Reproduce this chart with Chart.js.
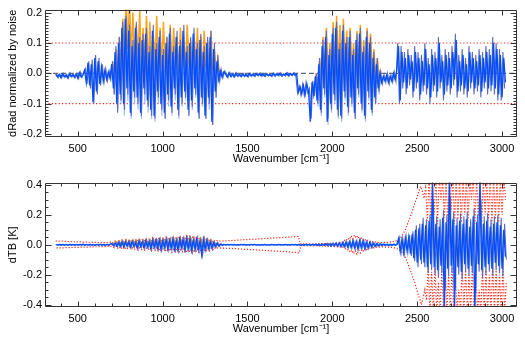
<!DOCTYPE html>
<html>
<head>
<meta charset="utf-8">
<script src="https://cdn.jsdelivr.net/npm/chart.js@4"></script>
<style>
  html, body { margin: 0; background: #fff; }
  #wrap { position: relative; width: 525px; height: 346px; }
  canvas { position: absolute; left: 0; display: block; }
</style>
</head>
<body>
<div id="wrap">
  <canvas id="dradChart" width="525" height="173" style="top:0"></canvas>
  <canvas id="dtbChart" width="525" height="173" style="top:173px"></canvas>
</div>
<script>
// spectra are sampled every 10 cm-1 starting at 370 cm-1 (rows below = 100 cm-1 each);
// the secondary traces sit on the half-step grid (375, 385, ...)
const WN_START = 370;
const WN_HALF = 375;
const WN_STEP = 10;
const WN_MIN = 307;
const WN_MAX = 3088;

const xMajorTicks = [500, 1000, 1500, 2000, 2500, 3000];
const dradTicks = [-0.2, -0.1, 0.0, 0.1, 0.2];
const dtbTicks = [-0.4, -0.2, 0.0, 0.2, 0.4];
const dradLimits = [0.1, -0.1];

// radiance difference normalized by noise
const dradBlue = [
  -0.003,-0.012,-0.004,-0.014,-0.002,-0.011,-0.006,-0.015,-0.001,-0.010,
  -0.005,-0.013,-0.002,-0.016,0.002,-0.012,-0.004,0.010,-0.030,0.035,
  -0.040,0.030,-0.095,0.050,-0.060,0.040,-0.035,0.020,-0.025,0.010,
  -0.020,0.004,-0.016,0.030,-0.050,0.070,-0.100,0.100,-0.070,0.150,
  -0.100,0.180,-0.050,0.140,-0.130,0.090,-0.060,0.150,-0.080,0.100,
  -0.130,0.110,-0.050,0.130,-0.090,0.070,-0.120,0.140,-0.140,0.080,
  -0.060,0.120,-0.100,0.060,-0.130,0.100,-0.070,0.130,-0.110,0.070,
  -0.050,0.120,-0.120,0.090,-0.080,0.140,-0.060,0.070,-0.120,0.100,
  -0.090,0.130,-0.050,0.080,-0.130,0.110,-0.080,0.070,-0.140,0.100,
  -0.080,0.120,-0.160,0.080,-0.060,0.040,-0.020,0.008,-0.012,0.004,
  -0.002,-0.012,0.001,-0.010,-0.003,-0.011,0.000,-0.009,-0.004,-0.010,
  -0.002,-0.009,-0.004,-0.010,-0.001,-0.008,-0.003,-0.009,-0.002,-0.007,
  -0.001,-0.008,-0.003,-0.009,-0.002,-0.007,-0.004,-0.009,-0.001,-0.008,
  -0.002,-0.007,-0.001,-0.008,-0.003,-0.007,0.000,-0.008,-0.002,-0.006,
  0.000,-0.007,-0.002,-0.062,-0.045,-0.068,-0.040,-0.070,-0.035,-0.060,
  -0.160,-0.030,-0.070,-0.010,-0.090,0.030,-0.120,0.090,-0.050,0.120,
  -0.160,0.060,-0.100,0.130,-0.070,0.150,-0.120,0.080,-0.140,0.140,
  -0.060,0.100,-0.110,0.120,-0.080,0.060,-0.130,0.110,-0.050,0.130,
  -0.100,0.070,-0.140,0.120,-0.060,0.100,-0.120,0.050,-0.080,0.030,
  -0.050,0.000,-0.030,-0.010,-0.025,-0.005,-0.030,-0.010,-0.025,0.000,
  -0.020,0.010,0.090,-0.090,0.070,-0.030,0.050,-0.050,0.060,-0.020,
  0.040,-0.060,0.070,-0.030,0.050,-0.070,0.040,-0.040,0.080,-0.050,
  0.030,-0.080,0.060,-0.040,0.050,-0.060,0.100,-0.030,0.040,-0.070,
  0.060,-0.040,0.050,-0.050,0.070,-0.020,0.110,-0.060,0.040,-0.040,
  0.060,-0.050,0.030,-0.060,0.070,-0.030,0.050,-0.050,0.040,-0.040,
  0.060,-0.060,0.050,-0.030,0.070,-0.050,0.060,-0.040,0.100,-0.050,
  0.080,-0.070,0.060,-0.080,0.050,-0.030
];
const dradSlate = [
  -0.001,-0.015,-0.002,-0.016,0.000,-0.014,-0.004,-0.017,0.001,-0.013,
  -0.003,-0.015,0.000,-0.018,0.004,-0.014,-0.002,0.015,-0.035,0.040,
  -0.050,0.045,-0.100,0.060,-0.070,0.050,-0.040,0.030,-0.030,0.015,
  -0.025,0.008,-0.020,0.040,-0.070,0.090,-0.130,0.120,-0.090,0.170,
  -0.120,0.190,-0.070,0.160,-0.140,0.110,-0.080,0.170,-0.100,0.120,
  -0.140,0.130,-0.070,0.150,-0.110,0.090,-0.140,0.160,-0.150,0.100,
  -0.080,0.140,-0.120,0.080,-0.150,0.120,-0.090,0.150,-0.130,0.090,
  -0.070,0.140,-0.140,0.110,-0.100,0.160,-0.080,0.090,-0.140,0.120,
  -0.110,0.150,-0.070,0.100,-0.150,0.130,-0.100,0.090,-0.150,0.120,
  -0.100,0.140,-0.170,0.100,-0.080,0.060,-0.030,0.012,-0.016,0.008,
  0.000,-0.014,0.003,-0.012,-0.001,-0.013,0.002,-0.011,-0.002,-0.012,
  0.000,-0.011,-0.002,-0.012,0.001,-0.010,-0.001,-0.011,0.000,-0.009,
  0.001,-0.010,-0.001,-0.011,0.000,-0.009,-0.002,-0.011,0.001,-0.010,
  0.000,-0.009,0.001,-0.010,-0.001,-0.009,0.002,-0.010,0.000,-0.008,
  0.002,-0.009,-0.065,-0.042,-0.072,-0.036,-0.074,-0.030,-0.065,-0.050,
  -0.150,-0.025,-0.075,0.000,-0.100,0.050,-0.130,0.110,-0.070,0.140,
  -0.150,0.080,-0.120,0.150,-0.090,0.170,-0.140,0.100,-0.150,0.160,
  -0.080,0.120,-0.130,0.140,-0.100,0.080,-0.150,0.130,-0.070,0.150,
  -0.120,0.090,-0.150,0.140,-0.080,0.120,-0.130,0.070,-0.100,0.050,
  -0.060,0.005,-0.035,-0.005,-0.030,0.000,-0.035,-0.005,-0.030,0.005,
  -0.025,0.100,-0.100,0.090,-0.050,0.070,-0.070,0.080,-0.040,0.060,
  -0.080,0.090,-0.050,0.070,-0.090,0.060,-0.060,0.100,-0.070,0.050,
  -0.100,0.080,-0.060,0.070,-0.080,0.120,-0.050,0.060,-0.090,0.080,
  -0.060,0.070,-0.070,0.090,-0.040,0.130,-0.080,0.060,-0.060,0.080,
  -0.070,0.050,-0.080,0.090,-0.050,0.070,-0.070,0.060,-0.060,0.080,
  -0.080,0.070,-0.050,0.090,-0.070,0.080,-0.060,0.120,-0.070,0.100,
  -0.090,0.080,-0.090,0.070,-0.050
];
// orange / light blue only differ from the others inside the two active bands
const dradOrangeA = [ // 705..1345
  0.04,-0.01,0.08,0.00,0.12,0.02,0.18,0.06,0.25,0.08,
  0.24,0.05,0.20,0.03,0.16,0.04,0.21,0.02,0.15,0.03,
  0.19,0.01,0.17,0.00,0.13,0.02,0.19,0.00,0.15,0.02,
  0.17,0.00,0.12,0.02,0.16,0.01,0.15,0.03,0.12,0.00,
  0.15,0.02,0.12,0.01,0.16,0.03,0.11,0.00,0.13,0.02,
  0.15,0.01,0.12,0.00,0.14,0.02,0.11,0.00,0.14,0.01,
  0.08,0.00,0.05,0.00,0.01
];
const dradOrangeB = [ // 1905..2285
  0.00,-0.05,0.05,-0.02,0.12,0.00,0.15,-0.02,0.10,0.00,
  0.17,0.01,0.19,0.02,0.16,0.00,0.18,0.02,0.14,0.00,
  0.15,0.02,0.10,0.00,0.14,0.01,0.16,0.00,0.11,0.01,
  0.15,0.00,0.13,0.00,0.08,-0.01,0.05,-0.02,0.01
];
const dradLightA = [ // 705..1345
  0.02,-0.07,0.05,-0.12,0.08,-0.10,0.10,-0.14,0.12,-0.09,
  0.10,-0.15,0.07,-0.10,0.10,-0.12,0.08,-0.15,0.08,-0.10,
  0.10,-0.13,0.06,-0.15,0.10,-0.16,0.07,-0.10,0.09,-0.14,
  0.05,-0.15,0.08,-0.11,0.10,-0.14,0.06,-0.09,0.10,-0.15,
  0.07,-0.11,0.11,-0.09,0.06,-0.14,0.08,-0.12,0.10,-0.08,
  0.06,-0.15,0.09,-0.11,0.06,-0.15,0.08,-0.12,0.10,-0.17,
  0.06,-0.08,0.03,-0.03,0.005
];
const dradLightB = [ // 1905..2285
  -0.02,-0.11,0.02,-0.14,0.07,-0.08,0.10,-0.17,0.05,-0.13,
  0.10,-0.10,0.12,-0.15,0.07,-0.16,0.10,-0.09,0.08,-0.14,
  0.10,-0.11,0.05,-0.15,0.09,-0.08,0.10,-0.13,0.06,-0.16,
  0.10,-0.09,0.08,-0.14,0.04,-0.10,0.02,-0.07,0.00
];

// brightness temperature difference [K]
const dtbBlue = [
  0.002,-0.002,0.003,-0.002,0.002,-0.003,0.002,-0.002,0.003,-0.002,
  0.002,-0.003,0.002,-0.002,0.003,-0.002,0.004,-0.003,0.002,-0.002,
  0.003,-0.002,0.002,-0.003,0.002,-0.002,0.003,-0.002,0.002,-0.003,
  0.002,-0.002,0.003,0.008,-0.006,0.012,-0.008,0.015,-0.010,0.018,
  -0.012,0.020,-0.008,0.018,-0.014,0.022,-0.010,0.016,-0.020,0.024,
  -0.012,0.020,-0.018,0.026,-0.014,0.022,-0.024,0.030,-0.016,0.028,
  -0.022,0.032,-0.030,0.026,-0.018,0.034,-0.028,0.030,-0.024,0.036,
  -0.030,0.028,-0.034,0.038,-0.020,0.034,-0.030,0.040,-0.026,0.036,
  -0.036,0.030,-0.028,0.038,-0.032,0.026,-0.065,0.034,-0.030,0.028,
  -0.024,0.020,-0.020,0.016,-0.012,0.010,-0.008,0.005,-0.003,0.002,
  -0.002,0.002,-0.002,0.002,-0.001,0.002,-0.002,0.001,-0.002,0.002,
  -0.001,0.002,-0.002,0.001,-0.002,0.002,-0.001,0.002,-0.002,0.001,
  -0.002,0.001,-0.001,0.002,-0.002,0.001,-0.002,0.002,-0.001,0.001,
  -0.002,0.002,-0.001,0.001,-0.002,0.002,-0.001,0.001,-0.002,0.002,
  -0.001,0.002,-0.002,0.003,-0.003,0.002,-0.003,0.003,-0.002,0.003,
  -0.003,0.003,-0.002,0.004,-0.004,0.003,-0.004,0.005,-0.004,0.006,
  -0.005,0.006,-0.007,0.008,-0.006,0.010,-0.008,0.012,-0.010,0.014,
  -0.012,0.018,-0.015,0.020,-0.018,0.024,-0.020,0.022,-0.024,0.026,
  -0.020,0.024,-0.022,0.018,-0.020,0.016,-0.014,0.012,-0.010,0.008,
  -0.008,0.006,-0.005,0.005,-0.004,0.004,-0.004,0.003,-0.004,0.004,
  -0.003,0.004,0.040,-0.045,0.035,-0.050,0.045,-0.040,0.050,-0.060,
  0.070,-0.090,0.100,-0.120,0.110,-0.100,0.140,-0.120,0.130,-0.150,
  0.160,-0.130,0.420,-0.150,0.140,-0.170,0.120,-0.140,0.180,-0.450,
  0.150,-0.160,0.450,-0.140,0.170,-0.420,0.130,-0.150,0.160,-0.180,
  0.140,-0.130,0.170,-0.160,0.120,-0.140,0.190,-0.450,0.150,-0.130,
  0.450,-0.170,0.140,-0.150,0.160,-0.130,0.120,-0.160,0.140,-0.120,
  0.150,-0.140,0.130,-0.160,0.100,-0.080
];
const dtbSlate = [
  0.003,-0.003,0.004,-0.003,0.003,-0.004,0.003,-0.003,0.004,-0.003,
  0.003,-0.004,0.003,-0.003,0.004,-0.003,0.005,-0.004,0.003,-0.003,
  0.004,-0.003,0.003,-0.004,0.003,-0.003,0.004,-0.003,0.003,-0.004,
  0.003,-0.003,0.004,0.012,-0.010,0.016,-0.012,0.020,-0.014,0.024,
  -0.016,0.026,-0.012,0.024,-0.018,0.028,-0.014,0.022,-0.026,0.030,
  -0.016,0.026,-0.024,0.032,-0.020,0.028,-0.030,0.036,-0.022,0.034,
  -0.028,0.038,-0.036,0.032,-0.024,0.040,-0.034,0.036,-0.030,0.042,
  -0.036,0.034,-0.040,0.044,-0.026,0.040,-0.036,0.046,-0.032,0.042,
  -0.042,0.036,-0.034,0.044,-0.038,0.032,-0.070,0.040,-0.036,0.034,
  -0.030,0.026,-0.026,0.020,-0.016,0.014,-0.010,0.007,-0.005,0.003,
  -0.003,0.003,-0.003,0.003,-0.002,0.003,-0.003,0.002,-0.003,0.003,
  -0.002,0.003,-0.003,0.002,-0.003,0.003,-0.002,0.003,-0.003,0.002,
  -0.003,0.002,-0.002,0.003,-0.003,0.002,-0.003,0.003,-0.002,0.002,
  -0.003,0.003,-0.002,0.002,-0.003,0.003,-0.002,0.002,-0.003,0.003,
  -0.002,0.003,-0.003,0.004,-0.004,0.003,-0.004,0.004,-0.003,0.004,
  -0.004,0.004,-0.003,0.005,-0.005,0.004,-0.005,0.006,-0.005,0.008,
  -0.007,0.008,-0.009,0.010,-0.008,0.013,-0.010,0.015,-0.013,0.018,
  -0.016,0.022,-0.019,0.025,-0.022,0.030,-0.025,0.027,-0.030,0.032,
  -0.025,0.030,-0.027,0.022,-0.025,0.020,-0.018,0.015,-0.013,0.010,
  -0.010,0.008,-0.007,0.006,-0.005,0.005,-0.005,0.004,-0.005,0.005,
  -0.004,0.005,0.050,-0.055,0.045,-0.060,0.055,-0.050,0.065,-0.075,
  0.090,-0.110,0.130,-0.150,0.140,-0.130,0.180,-0.150,0.170,-0.190,
  0.200,-0.170,0.300,-0.200,0.190,-0.220,0.170,-0.190,0.230,-0.300,
  0.200,-0.210,0.320,-0.190,0.220,-0.300,0.180,-0.200,0.210,-0.230,
  0.190,-0.180,0.220,-0.210,0.170,-0.190,0.240,-0.320,0.200,-0.180,
  0.300,-0.220,0.190,-0.200,0.210,-0.180,0.170,-0.210,0.190,-0.170,
  0.200,-0.190,0.180,-0.210,0.140,-0.100
];
const dtbOrange = [ // 705..1345
  0.012,0.000,0.020,0.002,0.024,0.000,0.028,0.004,0.030,0.002,
  0.028,0.000,0.032,0.004,0.030,0.002,0.034,0.000,0.030,0.004,
  0.036,0.000,0.034,0.004,0.038,0.002,0.036,0.000,0.040,0.004,
  0.038,0.000,0.042,0.004,0.040,0.002,0.046,0.000,0.044,0.004,
  0.040,0.002,0.048,0.000,0.044,0.004,0.050,0.002,0.046,0.000,
  0.048,0.002,0.040,0.000,0.044,0.002,0.036,0.000,0.032,0.002,
  0.020,0.000,0.012,0.000,0.004
];
// dotted red: upper and lower uncertainty traces
const dtbRedUp = [
  0.026,0.025,0.025,0.024,0.024,0.023,0.023,0.022,0.022,0.021,
  0.021,0.020,0.020,0.020,0.019,0.019,0.018,0.018,0.018,0.017,
  0.017,0.017,0.016,0.016,0.016,0.015,0.015,0.015,0.014,0.014,
  0.014,0.015,0.016,0.020,0.012,0.025,0.015,0.030,0.012,0.032,
  0.018,0.034,0.015,0.030,0.020,0.036,0.016,0.033,0.022,0.040,
  0.018,0.036,0.024,0.040,0.020,0.038,0.026,0.045,0.022,0.042,
  0.028,0.048,0.024,0.044,0.030,0.050,0.026,0.046,0.032,0.055,
  0.028,0.050,0.034,0.058,0.030,0.055,0.036,0.060,0.030,0.056,
  0.034,0.060,0.030,0.055,0.036,0.052,0.030,0.050,0.026,0.045,
  0.024,0.040,0.020,0.032,0.022,0.028,0.024,0.025,0.025,0.026,
  0.026,0.027,0.028,0.028,0.029,0.030,0.030,0.031,0.032,0.032,
  0.033,0.034,0.034,0.035,0.036,0.036,0.037,0.038,0.038,0.039,
  0.040,0.040,0.041,0.042,0.042,0.043,0.044,0.044,0.045,0.046,
  0.046,0.047,0.048,0.048,0.049,0.050,0.050,0.051,0.052,0.052,
  0.053,0.054,0.055,0.056,0.006,0.005,0.006,0.005,0.006,0.006,
  0.006,0.007,0.006,0.007,0.007,0.008,0.007,0.008,0.008,0.009,
  0.009,0.010,0.010,0.012,0.011,0.014,0.012,0.016,0.014,0.020,
  0.030,0.025,0.045,0.035,0.060,0.040,0.065,0.045,0.060,0.035,
  0.050,0.030,0.040,0.025,0.030,0.020,0.025,0.018,0.020,0.016,
  0.016,0.015,0.015,0.015,0.016,0.016,0.017,0.018,0.020,0.022,
  0.022,0.030,0.038,0.045,0.060,0.080,0.100,0.130,0.160,0.190,
  0.220,0.260,0.290,0.320,0.360,0.390,0.360,0.310,0.380,0.160,
  0.450,0.160,0.450,0.200,0.450,0.140,0.450,0.300,0.450,0.180,
  0.450,0.150,0.450,0.220,0.450,0.140,0.450,0.170,0.450,0.150,
  0.450,0.200,0.450,0.160,0.450,0.300,0.450,0.140,0.450,0.180,
  0.450,0.150,0.450,0.200,0.450,0.160,0.450,0.140,0.450,0.170,
  0.450,0.150,0.450,0.200,0.450,0.300
];
const dtbRedDn = [
  -0.020,-0.020,-0.021,-0.020,-0.020,-0.019,-0.019,-0.019,-0.018,-0.018,
  -0.018,-0.017,-0.017,-0.017,-0.016,-0.016,-0.016,-0.015,-0.015,-0.015,
  -0.014,-0.014,-0.014,-0.013,-0.013,-0.013,-0.012,-0.012,-0.012,-0.012,
  -0.011,-0.011,-0.010,-0.012,-0.020,-0.010,-0.024,-0.012,-0.028,-0.014,
  -0.030,-0.016,-0.026,-0.012,-0.032,-0.018,-0.030,-0.014,-0.035,-0.020,
  -0.032,-0.016,-0.036,-0.022,-0.034,-0.018,-0.040,-0.024,-0.038,-0.020,
  -0.044,-0.026,-0.040,-0.022,-0.046,-0.028,-0.042,-0.024,-0.050,-0.030,
  -0.046,-0.026,-0.052,-0.032,-0.048,-0.028,-0.055,-0.034,-0.050,-0.030,
  -0.056,-0.032,-0.050,-0.028,-0.052,-0.034,-0.060,-0.028,-0.048,-0.024,
  -0.042,-0.022,-0.035,-0.020,-0.026,-0.020,-0.022,-0.021,-0.022,-0.022,
  -0.023,-0.023,-0.024,-0.024,-0.025,-0.026,-0.026,-0.027,-0.028,-0.028,
  -0.029,-0.030,-0.030,-0.031,-0.032,-0.032,-0.033,-0.034,-0.034,-0.035,
  -0.036,-0.036,-0.037,-0.038,-0.038,-0.039,-0.040,-0.040,-0.041,-0.042,
  -0.042,-0.043,-0.044,-0.045,-0.046,-0.046,-0.047,-0.048,-0.049,-0.050,
  -0.050,-0.051,-0.052,-0.054,-0.005,-0.006,-0.005,-0.006,-0.006,-0.005,
  -0.006,-0.006,-0.007,-0.006,-0.007,-0.007,-0.008,-0.008,-0.008,-0.009,
  -0.009,-0.010,-0.011,-0.010,-0.013,-0.012,-0.015,-0.014,-0.020,-0.016,
  -0.024,-0.035,-0.030,-0.050,-0.035,-0.060,-0.040,-0.065,-0.035,-0.055,
  -0.030,-0.045,-0.025,-0.035,-0.020,-0.025,-0.016,-0.020,-0.015,-0.016,
  -0.015,-0.015,-0.014,-0.015,-0.015,-0.016,-0.016,-0.017,-0.018,-0.020,
  -0.022,-0.028,-0.035,-0.042,-0.055,-0.075,-0.095,-0.125,-0.155,-0.185,
  -0.220,-0.250,-0.290,-0.330,-0.360,-0.400,-0.350,-0.300,-0.370,-0.150,
  -0.450,-0.180,-0.450,-0.140,-0.450,-0.250,-0.450,-0.160,-0.450,-0.130,
  -0.450,-0.200,-0.450,-0.150,-0.450,-0.170,-0.450,-0.300,-0.450,-0.140,
  -0.450,-0.160,-0.450,-0.200,-0.450,-0.140,-0.450,-0.180,-0.450,-0.300,
  -0.450,-0.150,-0.450,-0.170,-0.450,-0.200,-0.450,-0.140,-0.450,-0.160,
  -0.450,-0.200,-0.450,-0.150,-0.450,-0.250
];

const FONT = { family: "'Liberation Sans', Arial, sans-serif", size: 11 };

function spectrum(values, start = WN_START) {
  return values.map((v, i) => ({ x: start + i * WN_STEP, y: v }));
}
function hline(y) {
  return [{ x: WN_MIN, y }, { x: WN_MAX, y }];
}
function trace(data, color, width, extra = {}) {
  return Object.assign({
    data, borderColor: color, borderWidth: width, pointRadius: 0,
    tension: 0, fill: false
  }, extra);
}

// box round the plot with inward ticks on all four sides
const framePlugin = {
  id: 'frame',
  afterDatasetsDraw(chart, args, opts) {
    const { ctx, chartArea: a, scales: { x, y } } = chart;
    const L = Math.round(a.left) + 0.5, R = Math.round(a.right) - 0.5;
    const T = Math.round(a.top) + 0.5, B = Math.round(a.bottom) - 0.5;
    ctx.save();
    ctx.strokeStyle = '#333';
    ctx.lineWidth = 1;
    ctx.beginPath();
    ctx.rect(L, T, R - L, B - T);
    for (let v = 400; v <= 3000; v += 100) {
      const px = Math.round(x.getPixelForValue(v)) + 0.5;
      const len = v % 500 === 0 ? 5 : 3;
      ctx.moveTo(px, B); ctx.lineTo(px, B - len);
      ctx.moveTo(px, T); ctx.lineTo(px, T + len);
    }
    const n = opts.minorCount;
    for (let k = -n; k <= n; k++) {
      const py = Math.round(y.getPixelForValue(k * opts.minorStep)) + 0.5;
      const len = k % opts.majorEvery === 0 ? 6 : 3;
      ctx.moveTo(L, py); ctx.lineTo(L + len, py);
      ctx.moveTo(R, py); ctx.lineTo(R - len, py);
    }
    ctx.stroke();
    ctx.restore();
  }
};

function panelOptions(p) {
  return {
    responsive: false,
    animation: false,
    devicePixelRatio: 1,
    layout: { padding: { top: p.padTop, right: 8, left: 0, bottom: 0 } },
    plugins: {
      legend: { display: false },
      tooltip: { enabled: false },
      frame: p.frame
    },
    scales: {
      x: {
        type: 'linear', min: WN_MIN, max: WN_MAX,
        afterBuildTicks: s => { s.ticks = xMajorTicks.map(v => ({ value: v })); },
        afterFit: s => { s.height = p.xHeight; },
        grid: { display: false, drawTicks: false },
        border: { display: false },
        ticks: { font: FONT, color: '#000', padding: 5, maxRotation: 0, autoSkip: false,
                 callback: v => String(v) },
        title: { display: true, text: 'Wavenumber [cm\u207B\u00B9]', font: FONT, color: '#000',
                 padding: { top: 0, bottom: p.xTitlePad } }
      },
      y: {
        type: 'linear', min: p.yMin, max: p.yMax,
        afterBuildTicks: s => { s.ticks = p.yTicks.map(v => ({ value: v })); },
        afterFit: s => { s.width = 45; },
        grid: { display: false, drawTicks: false },
        border: { display: false },
        ticks: { font: FONT, color: '#000', padding: 3, autoSkip: false,
                 callback: v => v.toFixed(1) },
        title: { display: true, text: p.yTitle, font: FONT, color: '#000',
                 padding: { top: 6, bottom: 0 } }
      }
    }
  };
}

const RED = 'rgb(255,35,20)';
const BLUE = 'rgb(0,78,255)';
const SLATE = 'rgb(92,108,188)';
const LIGHT = 'rgb(165,188,250)';
const ORANGE = 'rgb(255,162,28)';
const DOTS = [1.2, 1.8];

new Chart(document.getElementById('dradChart'), {
  type: 'line',
  data: {
    datasets: [
      trace(spectrum(dradBlue), BLUE, 1.3),
      trace(spectrum(dradSlate, WN_HALF), SLATE, 1.1),
      trace(spectrum(dradLightA, 705), LIGHT, 1.2),
      trace(spectrum(dradLightB, 1905), LIGHT, 1.2),
      trace(spectrum(dradOrangeA, 705), ORANGE, 1.5),
      trace(spectrum(dradOrangeB, 1905), ORANGE, 1.5),
      trace(hline(0), '#444', 1, { borderDash: [5, 3] }),
      trace(hline(dradLimits[0]), RED, 1.1, { borderDash: [1.2, 2.2] }),
      trace(hline(dradLimits[1]), RED, 1.1, { borderDash: [1.2, 2.2] })
    ]
  },
  options: panelOptions({
    padTop: 8, xHeight: 36, xTitlePad: 7,
    yMin: -0.21, yMax: 0.21, yTicks: dradTicks, yTitle: 'dRad normalized by noise',
    frame: { minorStep: 0.01, minorCount: 20, majorEvery: 10 }
  }),
  plugins: [framePlugin]
});

new Chart(document.getElementById('dtbChart'), {
  type: 'line',
  data: {
    datasets: [
      trace(spectrum(dtbBlue), BLUE, 1.3),
      trace(spectrum(dtbSlate, WN_HALF), SLATE, 1.1),
      trace(spectrum(dtbOrange, 705), ORANGE, 1.3),
      trace(spectrum(dtbRedUp), RED, 1.2, { borderDash: DOTS }),
      trace(spectrum(dtbRedDn, WN_HALF), RED, 1.2, { borderDash: DOTS })
    ]
  },
  options: panelOptions({
    padTop: 5, xHeight: 39, xTitlePad: 10,
    yMin: -0.415, yMax: 0.415, yTicks: dtbTicks, yTitle: 'dTB [K]',
    frame: { minorStep: 0.05, minorCount: 8, majorEvery: 4 }
  }),
  plugins: [framePlugin]
});
</script>
</body>
</html>
